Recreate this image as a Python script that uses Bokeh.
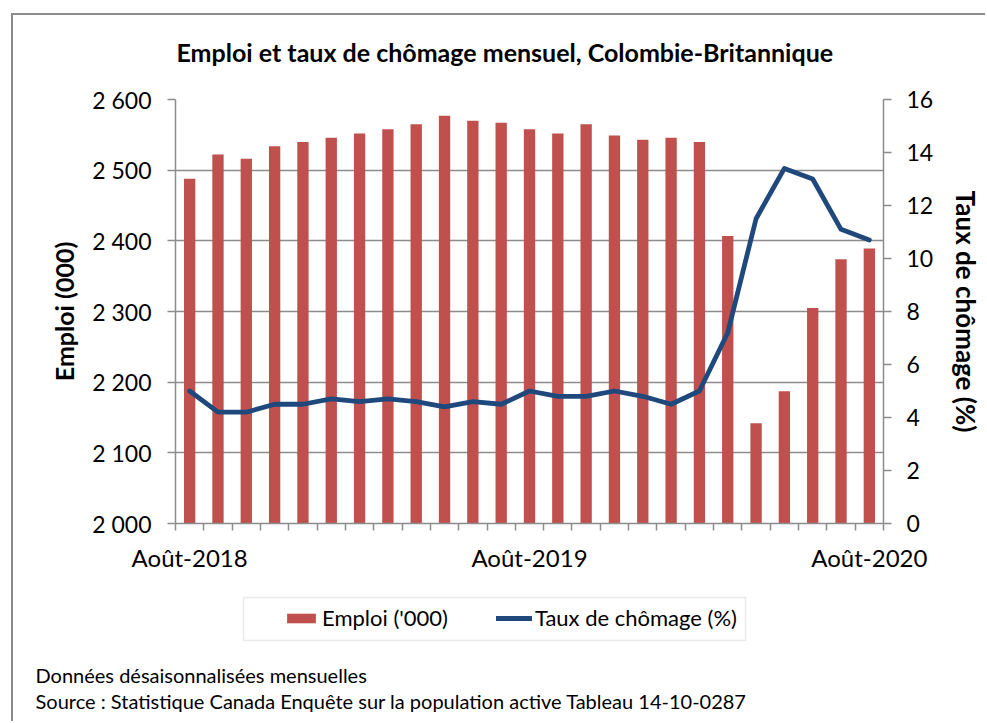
from bokeh.plotting import figure
from bokeh.layouts import column
from bokeh.models import (Range1d, LinearAxis, FixedTicker, Legend, LegendItem,
                          Label, BoxAnnotation, ColumnDataSource)
from bokeh.embed import file_html
from bokeh.resources import INLINE

# ---------------- data ----------------
months = ["Août-2018", "Sept-2018", "Oct-2018", "Nov-2018", "Déc-2018",
          "Janv-2019", "Févr-2019", "Mars-2019", "Avr-2019", "Mai-2019",
          "Juin-2019", "Juil-2019", "Août-2019", "Sept-2019", "Oct-2019",
          "Nov-2019", "Déc-2019", "Janv-2020", "Févr-2020", "Mars-2020",
          "Avr-2020", "Mai-2020", "Juin-2020", "Juil-2020", "Août-2020"]
emploi = [2488, 2522, 2516, 2534, 2540, 2546, 2552, 2558, 2565, 2577,
          2570, 2567, 2558, 2552, 2565, 2549, 2543, 2546, 2540, 2407,
          2142, 2187, 2305, 2374, 2389]
chomage = [5.0, 4.2, 4.2, 4.5, 4.5, 4.7, 4.6, 4.7, 4.6, 4.4,
           4.6, 4.5, 5.0, 4.8, 4.8, 5.0, 4.8, 4.5, 5.0, 7.2,
           11.5, 13.4, 13.0, 11.1, 10.7]
x_tick_labels = ["Août-2018", "Août-2019", "Août-2020"]
emploi_ticks = [2000, 2100, 2200, 2300, 2400, 2500, 2600]
emploi_tick_labels = ["2 000", "2 100", "2 200", "2 300", "2 400", "2 500", "2 600"]
chomage_ticks = [0, 2, 4, 6, 8, 10, 12, 14, 16]

title = "Emploi et taux de chômage mensuel, Colombie-Britannique"
note1 = "Données désaisonnalisées mensuelles"
note2 = "Source : Statistique Canada Enquête sur la population active Tableau 14-10-0287"

# ---------------- styles ----------------
FONT = "Lato"
GRAY = "#8c8c8c"
RED = "#C0504D"
BLUE = "#1F497D"

W = 972
H_HEAD = 60
H_MAIN = 510
H_FOOT = 136

x = list(range(len(months)))
src = ColumnDataSource(dict(x=x, emploi=emploi, chomage=chomage))


def blank(h):
    b = figure(width=W, height=h, output_backend="svg", toolbar_location=None,
               x_range=Range1d(0, W), y_range=Range1d(0, h),
               min_border=0, outline_line_color=None)
    b.axis.visible = False
    b.grid.visible = False
    b.background_fill_color = "white"
    b.border_fill_color = "white"
    return b


# ---------------- header: title ----------------
h = blank(H_HEAD)
h.add_layout(Label(x=163, y=24, x_units="screen", y_units="screen", text=title,
                   text_align="left", text_baseline="middle",
                   text_font=FONT, text_font_style="bold", text_font_size="25px",
                   text_color="black"))

# ---------------- main chart ----------------
p = figure(width=W, height=H_MAIN, output_backend="svg", toolbar_location=None,
           x_range=Range1d(-0.5, len(months) - 0.5),
           y_range=Range1d(emploi_ticks[0], emploi_ticks[-1]),
           min_border_left=162, min_border_right=100,
           min_border_top=24, min_border_bottom=62)
p.extra_y_ranges = {"taux": Range1d(chomage_ticks[0], chomage_ticks[-1])}
p.outline_line_color = None
p.background_fill_color = "white"
p.border_fill_color = "white"

p.xgrid.visible = False
p.ygrid.ticker = FixedTicker(ticks=emploi_ticks)
p.ygrid.grid_line_color = GRAY
p.ygrid.grid_line_width = 1.5

bars = p.vbar(x="x", top="emploi", bottom=emploi_ticks[0], width=0.4, source=src,
              fill_color=RED, line_color=None)
line = p.line(x="x", y="chomage", source=src, y_range_name="taux",
              line_color=BLUE, line_width=4.8, line_join="round", line_cap="round")

# x axis
xa = p.xaxis[0]
xpos = [months.index(l) for l in x_tick_labels]
xa.ticker = FixedTicker(ticks=xpos, minor_ticks=[i - 0.5 for i in range(len(months) + 1)])
xa.major_label_overrides = {i: months[i] for i in xpos}
xa.major_tick_out = 0
xa.major_tick_in = 0
xa.minor_tick_out = 7
xa.minor_tick_in = 0
xa.minor_tick_line_color = GRAY
xa.minor_tick_line_width = 1.5
xa.axis_line_color = GRAY
xa.axis_line_width = 1.5
xa.major_label_standoff = 12
xa.major_label_text_font = FONT
xa.major_label_text_font_size = "24px"
xa.major_label_text_color = "black"

# left axis
ya = p.yaxis[0]
ya.ticker = FixedTicker(ticks=emploi_ticks)
ya.major_label_overrides = dict(zip(emploi_ticks, emploi_tick_labels))
ya.axis_label = "Emploi (000)"
ya.axis_label_text_font = FONT
ya.axis_label_text_font_style = "bold"
ya.axis_label_text_font_size = "25px"
ya.axis_label_text_color = "black"
ya.axis_label_standoff = 10
ya.major_label_text_font = FONT
ya.major_label_text_font_size = "23px"
ya.major_label_text_color = "black"
ya.major_label_standoff = 16
ya.major_tick_out = 8
ya.major_tick_in = 0
ya.minor_tick_line_color = None
ya.major_tick_line_color = GRAY
ya.major_tick_line_width = 1.5
ya.axis_line_color = GRAY
ya.axis_line_width = 1.5

# right axis
ra = LinearAxis(y_range_name="taux", ticker=FixedTicker(ticks=chomage_ticks),
                axis_label="Taux de chômage (%)")
ra.axis_label_text_font = FONT
ra.axis_label_text_font_style = "bold"
ra.axis_label_text_font_size = "26px"
ra.axis_label_text_color = "black"
ra.axis_label_standoff = 14
ra.major_label_text_font = FONT
ra.major_label_text_font_size = "23px"
ra.major_label_text_color = "black"
ra.major_label_standoff = 15
ra.major_tick_out = 8
ra.major_tick_in = 0
ra.minor_tick_line_color = None
ra.major_tick_line_color = GRAY
ra.major_tick_line_width = 1.5
ra.axis_line_color = GRAY
ra.axis_line_width = 1.5
p.add_layout(ra, "right")

# ---------------- footer: legend + notes ----------------
f = blank(H_FOOT)
# legend proxies: same data, drawn on a range where they stay out of sight
f.extra_y_ranges = {"hide": Range1d(1e6, 1e6 + 1)}
lg_bar = f.vbar(x="x", top="emploi", bottom=emploi_ticks[0], width=0.4, source=src,
                y_range_name="hide", fill_color=RED, line_color=None)
lg_line = f.line(x="x", y="chomage", source=src, y_range_name="hide",
                 line_color=BLUE, line_width=5, line_cap="round")

# legend frame
f.add_layout(BoxAnnotation(left=230, right=732, top=124, bottom=81,
                           left_units="screen", right_units="screen",
                           top_units="screen", bottom_units="screen",
                           fill_color="white", fill_alpha=1,
                           line_color="#bbbbbb", line_width=1.5))

legend = Legend(items=[LegendItem(label="Emploi ('000)", renderers=[lg_bar]),
                       LegendItem(label="Taux de chômage (%)", renderers=[lg_line])],
                orientation="horizontal", location=(270, 90), margin=0,
                label_text_font=FONT, label_text_font_size="22px",
                label_text_color="black",
                glyph_width=36, glyph_height=12, label_standoff=3, spacing=48,
                padding=9, border_line_color=None, background_fill_alpha=0)
f.add_layout(legend)

for txt, yy in ((note1, 47), (note2, 21)):
    f.add_layout(Label(x=22, y=yy, x_units="screen", y_units="screen", text=txt,
                       text_align="left", text_baseline="middle",
                       text_font=FONT, text_font_size="20px", text_color="black"))

for fig in (h, p, f):
    if hasattr(fig, "frame_align"):
        fig.frame_align = False

page = column(h, p, f, spacing=0, margin=(13, 0, 0, 11),
              styles={"border-left": f"2px solid {GRAY}", "border-top": f"2px solid {GRAY}"})

open("out.html", "w").write(file_html(page, INLINE))
